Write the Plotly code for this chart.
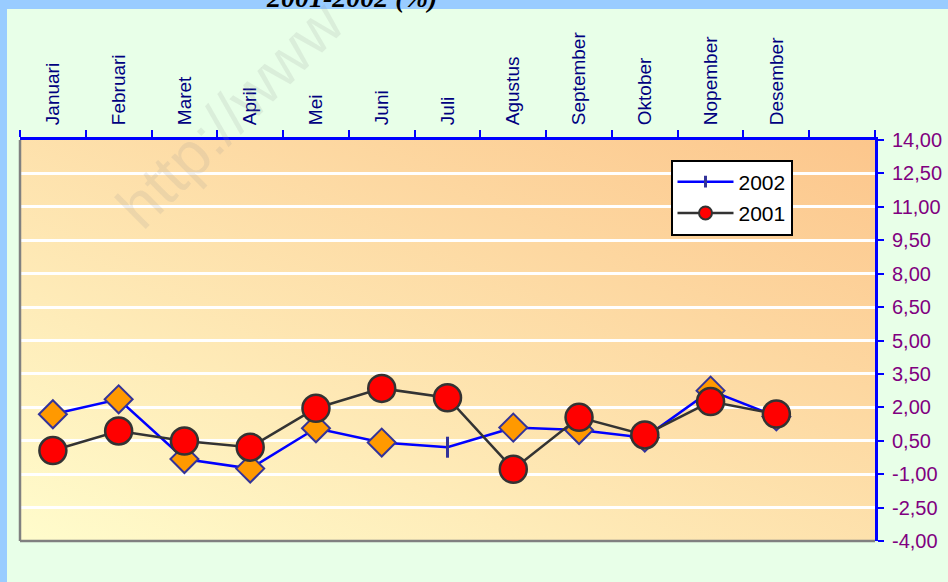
import base64
import plotly.graph_objects as go

# ---- data ----
MONTHS = ["Januari", "Februari", "Maret", "April", "Mei", "Juni", "Juli",
          "Agustus", "September", "Oktober", "Nopember", "Desember"]
INFL_2002 = [1.69, 2.36, -0.32, -0.75, 1.06, 0.42, 0.21, 1.09, 0.98, 0.64, 2.75, 1.59]
INFL_2001 = [0.06, 0.94, 0.49, 0.21, 1.96, 2.85, 2.43, -0.78, 1.55, 0.76, 2.26, 1.70]
Y_TICKS = [-4.0, -2.5, -1.0, 0.5, 2.0, 3.5, 5.0, 6.5, 8.0, 9.5, 11.0, 12.5, 14.0]
Y_TICK_LABELS = ["-4,00", "-2,50", "-1,00", "0,50", "2,00", "3,50", "5,00",
                 "6,50", "8,00", "9,50", "11,00", "12,50", "14,00"]
TITLE = "2001-2002 (%)"
SPECIAL_MONTH_2002 = "Juli"

x_idx = list(range(len(MONTHS)))
n_slots = len(MONTHS) + 1  # one empty category slot at the right

sym2002 = ["line-ns" if m == SPECIAL_MONTH_2002 else "diamond" for m in MONTHS]
size2002 = [15 if m == SPECIAL_MONTH_2002 else 21.5 for m in MONTHS]
lw2002 = [3 if m == SPECIAL_MONTH_2002 else 2 for m in MONTHS]

fig = go.Figure()

# legend-only entries
fig.add_trace(go.Scatter(x=[None], y=[None], name="2002", mode="lines+markers",
                         line=dict(color="#0000FF", width=2.5),
                         marker=dict(symbol="line-ns", size=8.5, opacity=1,
                                     line=dict(color="#333399", width=3)),
                         legendgroup="a"))
fig.add_trace(go.Scatter(x=[None], y=[None], name="2001", mode="lines+markers",
                         line=dict(color="#333333", width=2.5),
                         marker=dict(symbol="circle", size=13, color="#FF0000", opacity=1,
                                     line=dict(color="#333333", width=2)),
                         legendgroup="b"))

fig.add_trace(go.Scatter(x=x_idx, y=INFL_2002, name="2002", mode="lines+markers",
                         showlegend=False, cliponaxis=False,
                         line=dict(color="#0000FF", width=2.5),
                         marker=dict(symbol=sym2002, size=size2002, color="#FF9900",
                                     opacity=1,
                                     line=dict(color="#333399", width=lw2002))))
fig.add_trace(go.Scatter(x=x_idx, y=INFL_2001, name="2001", mode="lines+markers",
                         showlegend=False, cliponaxis=False,
                         line=dict(color="#333333", width=2.5),
                         marker=dict(symbol="circle", size=27, color="#FF0000",
                                     opacity=1,
                                     line=dict(color="#333333", width=2.5))))

grad_svg = ('<svg xmlns="http://www.w3.org/2000/svg" width="100" height="100" '
            'viewBox="0 0 100 100" preserveAspectRatio="none">'
            '<defs><linearGradient id="g" x1="0" y1="1" x2="1" y2="0">'
            '<stop offset="0" stop-color="#FFFCCC"/>'
            '<stop offset="1" stop-color="#FCC68C"/>'
            '</linearGradient></defs>'
            '<rect width="100" height="100" fill="url(#g)"/></svg>')
grad_src = "data:image/svg+xml;base64," + base64.b64encode(grad_svg.encode()).decode()

W, H = 948, 582
L, R, T, B = 20, 73, 140, 41
pw, ph = W - L - R, H - T - B


def px_x(p):
    return (p - L) / pw


def px_y(p):
    return (H - B - p) / ph


fig.update_layout(
    template="none",
    width=W, height=H,
    margin=dict(l=L, r=R, t=T, b=B, pad=0),
    paper_bgcolor="#E8FFE8",
    plot_bgcolor="rgba(0,0,0,0)",
    separators=", ",
    showlegend=True,
    legend=dict(x=px_x(670.5), y=px_y(159.5), xanchor="left", yanchor="top",
                bgcolor="#FFFFFF", bordercolor="#000000", borderwidth=2,
                font=dict(family="Liberation Sans, Arial", size=21, color="#000000"),
                tracegroupgap=1, itemwidth=56),
    images=[dict(source=grad_src, xref="paper", yref="paper", x=0, y=1,
                 sizex=1, sizey=1, sizing="stretch", xanchor="left",
                 yanchor="top", layer="below")],
    xaxis=dict(range=[-0.5, n_slots - 0.5], side="top", automargin=False,
               tickmode="array", tickvals=x_idx, ticktext=MONTHS,
               ticks="", tickangle=-90,
               tickfont=dict(family="Liberation Sans, Arial", size=19, color="#000080"),
               ticklabelstandoff=8,
               showline=True, linecolor="#0000FF", linewidth=3,
               showgrid=False, zeroline=False, fixedrange=True,
               minor=dict(tickmode="array",
                          tickvals=[i - 0.5 for i in range(n_slots + 1)],
                          ticks="outside", ticklen=7, tickwidth=2,
                          tickcolor="#0000FF", showgrid=False)),
    yaxis=dict(range=[Y_TICKS[0], Y_TICKS[-1]], side="right", automargin=False,
               tickmode="array", tickvals=Y_TICKS, ticktext=Y_TICK_LABELS,
               ticks="outside", ticklen=6, tickwidth=2, tickcolor="#0000FF",
               tickfont=dict(family="Liberation Sans, Arial", size=20, color="#800080"),
               ticklabelstandoff=4,
               showline=True, linecolor="#0000FF", linewidth=3,
               showgrid=True, gridcolor="#FFFFFF", gridwidth=2.5,
               zeroline=False, fixedrange=True),
    shapes=[
        # outer light-blue frame strips
        dict(type="rect", xref="paper", yref="paper", x0=px_x(0), x1=px_x(W),
             y0=px_y(9), y1=px_y(0), fillcolor="#99CCFF", line=dict(width=0),
             layer="below"),
        dict(type="rect", xref="paper", yref="paper", x0=px_x(0), x1=px_x(7),
             y0=px_y(H), y1=px_y(0), fillcolor="#99CCFF", line=dict(width=0),
             layer="below"),
        # grey plot border (left & bottom)
        dict(type="line", xref="paper", yref="paper", x0=0, x1=1, y0=0, y1=0,
             line=dict(color="#808080", width=2.5), layer="above"),
        dict(type="line", xref="paper", yref="paper", x0=0, x1=0, y0=0, y1=1,
             line=dict(color="#808080", width=2.5), layer="above"),
    ],
    annotations=[
        dict(text="<b><i>" + TITLE + "</i></b>", xref="paper", yref="paper",
             x=px_x(351.5), y=px_y(-2.5), xanchor="center", yanchor="middle",
             showarrow=False,
             font=dict(family="Liberation Serif, Times New Roman", size=28,
                       color="#000000")),
        dict(text="http://www", xref="paper", yref="paper",
             x=px_x(100), y=px_y(244), xanchor="left", yanchor="bottom",
             textangle=-45, showarrow=False,
             font=dict(family="Liberation Sans, Arial", size=62,
                       color="rgba(150,150,150,0.16)")),
    ],
)

fig.write_html("out.html",
               config={"displayModeBar": False},
               post_script="document.body.style.margin='0';"
                           "document.body.style.overflow='hidden';")
